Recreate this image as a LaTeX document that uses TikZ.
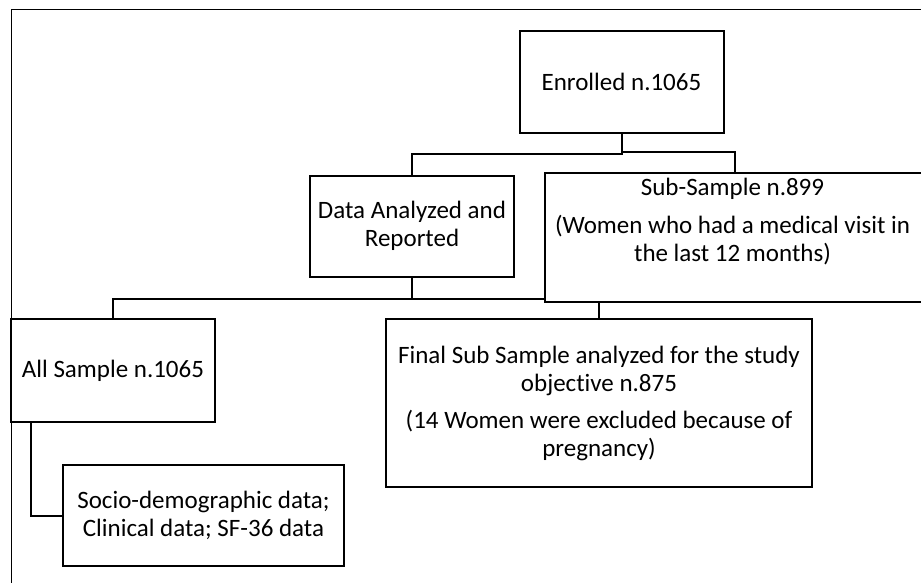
\documentclass[tikz,border=0pt]{standalone}
\usepackage{fontspec}
\setmainfont{Carlito}[Ligatures=NoCommon]
\begin{document}
\begin{tikzpicture}[x=0.5pt,y=-0.5pt,line width=1pt,
  box/.style={draw,inner sep=2pt,align=center,font=\fontsize{12.5}{14}\selectfont},
  txt/.style={inner sep=0pt,align=center,font=\fontsize{12.5}{14}\selectfont}]
\useasboundingbox (0,0) rectangle (921,583);
\clip (0,0) rectangle (921,583);
\draw[line width=0.5pt] (921,10) -- (11.5,10) -- (11.5,583);

\node[box,minimum width=102pt,minimum height=51pt] (enrolled) at (621.5,82) {Enrolled n.1065};
\node[box,minimum width=102pt,minimum height=50.5pt] (analyzed) at (412,226) {Data Analyzed and\\Reported};
\node[box,minimum width=190pt,minimum height=64.8pt] (sub) at (735,237.5) {};
\node[txt] (subtext) at (732.5,221.5) {Sub-Sample n.899\\[5pt](Women who had a medical visit in\\the last 12 months)};
\node[box,minimum width=102pt,minimum height=51.5pt] (all) at (113,370.5) {All Sample n.1065};
\node[box,minimum width=140.5pt,minimum height=50.5pt] (socio) at (203.5,515.5) {Socio-demographic data;\\Clinical data; SF-36 data};
\node[box,minimum width=213pt,minimum height=84pt] (final) at (599,403.4) {Final Sub Sample analyzed for the study\\objective n.875\\[4.75pt](14 Women were excluded because of\\pregnancy)};

\draw (enrolled.south) -- ++(0,20) -| (analyzed.north);
\draw (enrolled.south) -- ++(0,18) -| (sub.north);
\draw (analyzed.south) -- ++(0,21.6) coordinate (split) -| (all.north);
\draw (split) -- (split -| sub.west);
\draw (sub.south -| final.north) -- (final.north);
\draw ([xshift=10.35pt]all.south west) |- (socio.west);
\end{tikzpicture}
\end{document}
